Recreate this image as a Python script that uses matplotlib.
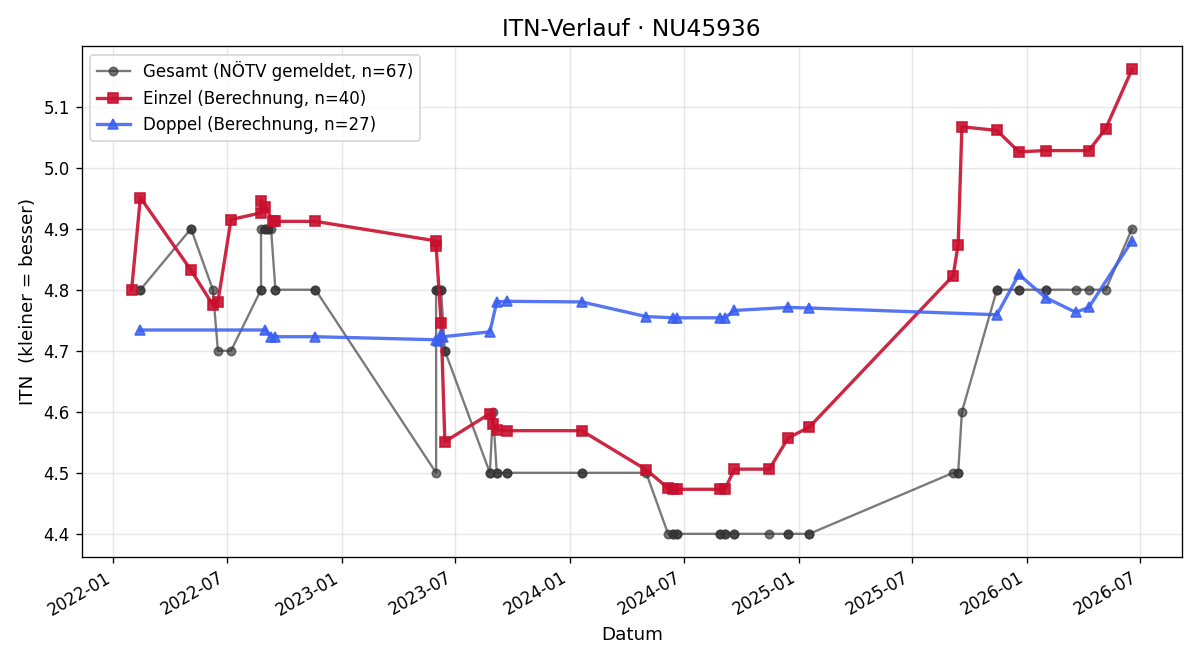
import pandas as pd
import matplotlib
matplotlib.use("Agg")
import matplotlib.pyplot as plt
import matplotlib.dates as mdates

# Gesamt (gemeldet) - doppelte Termine liegen uebereinander
gesamt_datum = [
    "2022-02-13", "2022-02-13", "2022-05-05", "2022-05-05", "2022-06-09",
    "2022-06-17", "2022-07-08", "2022-08-25", "2022-08-25", "2022-08-25",
    "2022-09-01", "2022-09-01", "2022-09-05", "2022-09-05", "2022-09-10",
    "2022-09-17", "2022-09-17", "2022-11-20", "2022-11-20", "2023-06-01",
    "2023-06-01", "2023-06-01", "2023-06-04", "2023-06-09", "2023-06-09",
    "2023-06-15", "2023-06-15", "2023-08-26", "2023-08-26", "2023-08-31",
    "2023-09-06", "2023-09-06", "2023-09-22", "2023-09-22", "2024-01-20",
    "2024-01-20", "2024-05-02", "2024-06-06", "2024-06-14", "2024-06-14",
    "2024-06-20", "2024-06-20", "2024-08-28", "2024-08-28", "2024-09-05",
    "2024-09-05", "2024-09-20", "2024-09-20", "2024-11-15", "2024-12-15",
    "2024-12-15", "2025-01-18", "2025-01-18", "2025-09-05", "2025-09-13",
    "2025-09-13", "2025-09-19", "2025-11-14", "2025-11-14", "2025-12-19",
    "2025-12-19", "2026-01-31", "2026-01-31", "2026-03-20", "2026-04-10",
    "2026-05-07", "2026-06-18",
]
gesamt_itn = [
    4.8, 4.8, 4.9, 4.9, 4.8,
    4.7, 4.7, 4.8, 4.8, 4.9,
    4.9, 4.9, 4.9, 4.9, 4.9,
    4.8, 4.8, 4.8, 4.8, 4.5,
    4.8, 4.8, 4.8, 4.8, 4.8,
    4.7, 4.7, 4.5, 4.5, 4.6,
    4.5, 4.5, 4.5, 4.5, 4.5,
    4.5, 4.5, 4.4, 4.4, 4.4,
    4.4, 4.4, 4.4, 4.4, 4.4,
    4.4, 4.4, 4.4, 4.4, 4.4,
    4.4, 4.4, 4.4, 4.5, 4.5,
    4.5, 4.6, 4.8, 4.8, 4.8,
    4.8, 4.8, 4.8, 4.8, 4.8,
    4.8, 4.9,
]

einzel_datum = [
    "2022-01-30", "2022-02-13", "2022-05-05", "2022-06-09", "2022-06-17",
    "2022-07-08", "2022-08-25", "2022-08-25", "2022-09-01", "2022-09-13",
    "2022-09-17", "2022-11-20", "2023-06-01", "2023-06-01", "2023-06-09",
    "2023-06-15", "2023-08-26", "2023-08-31", "2023-09-06", "2023-09-22",
    "2024-01-20", "2024-05-02", "2024-06-06", "2024-06-14", "2024-06-20",
    "2024-08-28", "2024-09-05", "2024-09-20", "2024-11-15", "2024-12-15",
    "2025-01-18", "2025-09-05", "2025-09-13", "2025-09-19", "2025-11-14",
    "2025-12-19", "2026-01-31", "2026-04-10", "2026-05-07", "2026-06-18",
]
einzel_itn = [
    4.800, 4.951, 4.832, 4.775, 4.780,
    4.915, 4.926, 4.946, 4.936, 4.912,
    4.912, 4.912, 4.880, 4.872, 4.746,
    4.551, 4.597, 4.580, 4.570, 4.569,
    4.569, 4.505, 4.475, 4.474, 4.473,
    4.473, 4.473, 4.506, 4.506, 4.557,
    4.575, 4.823, 4.874, 5.067, 5.061,
    5.026, 5.028, 5.028, 5.064, 5.161,
]

doppel_datum = [
    "2022-02-13", "2022-09-01", "2022-09-10", "2022-09-17", "2022-11-20",
    "2023-06-01", "2023-06-04", "2023-06-09", "2023-06-12", "2023-08-26",
    "2023-09-06", "2023-09-22", "2024-01-20", "2024-05-02", "2024-06-14",
    "2024-06-20", "2024-08-28", "2024-09-05", "2024-09-20", "2024-12-15",
    "2025-01-18", "2025-11-14", "2025-12-19", "2026-01-31", "2026-03-20",
    "2026-04-10", "2026-06-18",
]
doppel_itn = [
    4.734, 4.734, 4.723, 4.723, 4.723,
    4.718, 4.716, 4.727, 4.723, 4.731,
    4.780, 4.781, 4.780, 4.756, 4.754,
    4.754, 4.754, 4.754, 4.766, 4.771,
    4.770, 4.759, 4.825, 4.787, 4.763,
    4.771, 4.880,
]

fig, ax = plt.subplots(figsize=(10, 5.5), dpi=120)

ax.plot(pd.to_datetime(gesamt_datum), gesamt_itn, marker="o", markersize=5,
        linewidth=1.4, color="#333333", alpha=0.65,
        label=f"Gesamt (NÖTV gemeldet, n={len(gesamt_itn)})")
ax.plot(pd.to_datetime(einzel_datum), einzel_itn, marker="s", markersize=6,
        linewidth=2, color="#C8102E", alpha=0.9,
        label=f"Einzel (Berechnung, n={len(einzel_itn)})")
ax.plot(pd.to_datetime(doppel_datum), doppel_itn, marker="^", markersize=6,
        linewidth=2, color="#3A5EF0", alpha=0.85,
        label=f"Doppel (Berechnung, n={len(doppel_itn)})")

ax.set_title("ITN-Verlauf · NU45936", fontsize=14)
ax.set_xlabel("Datum", fontsize=11)
ax.set_ylabel("ITN  (kleiner = besser)", fontsize=11)
ax.grid(True, alpha=0.3)
ax.legend(loc="upper left")

ax.xaxis.set_major_locator(mdates.MonthLocator(bymonth=[1, 7]))
ax.xaxis.set_major_formatter(mdates.DateFormatter("%Y-%m"))
fig.autofmt_xdate()
fig.subplots_adjust(left=0.068, right=0.985, top=0.930, bottom=0.156)

plt.savefig("out.png", dpi=120)
